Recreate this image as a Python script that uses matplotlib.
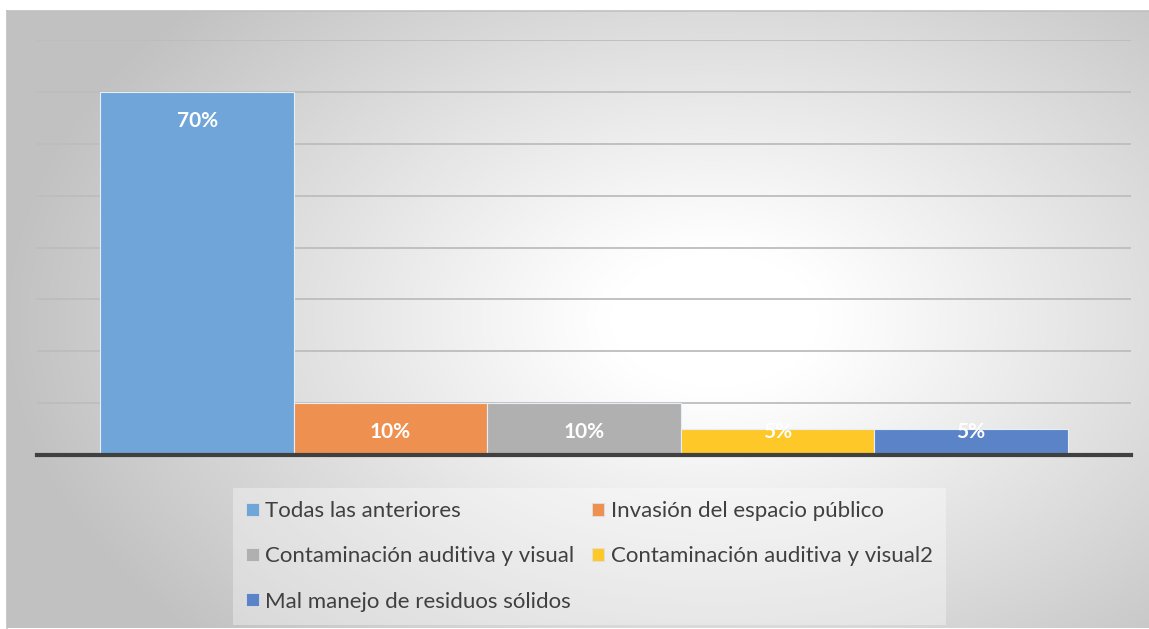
import matplotlib.pyplot as plt
import numpy as np
from matplotlib.patches import Patch

# data
series = [
    "Todas las anteriores",
    "Invasión del espacio público",
    "Contaminación auditiva y visual",
    "Contaminación auditiva y visual2",
    "Mal manejo de residuos sólidos",
]
values = [70, 10, 10, 5, 5]
labels = ["70%", "10%", "10%", "5%", "5%"]
colors = ["#6fa5d8", "#ee9150", "#b0b0b0", "#fec828", "#5b84c8"]

plt.rcParams["font.family"] = ["Lato", "DejaVu Sans"]

W, H = 1149, 629
fig = plt.figure(figsize=(W / 100, H / 100), dpi=100)
fig.patch.set_facecolor("white")

# chart panel with radial gradient background
px0, py0, px1, py1 = 7, 11, 1149, 628
bg = fig.add_axes([px0 / W, 1 - py1 / H, (px1 - px0) / W, (py1 - py0) / H])
gx, gy = np.meshgrid(np.linspace(0, 1, 400), np.linspace(0, 1, 240))
cx, cy = 0.62, 0.5
d = np.sqrt(((gx - cx) / 0.62) ** 2 + ((gy - cy) / 0.75) ** 2)
shade = 1 - 0.24 * np.clip((d - 0.15) / 0.85, 0, 1) ** 1.05
bg.imshow(np.dstack([shade] * 3), aspect="auto", extent=(0, 1, 1, 0), interpolation="bilinear")
bg.set_xticks([])
bg.set_yticks([])
for side in ["right", "bottom"]:
    bg.spines[side].set_visible(False)
for side in ["left", "top"]:
    bg.spines[side].set_color("#c0c0c0")
    bg.spines[side].set_linewidth(1.2)

# plot area
ax = fig.add_axes([37 / W, 1 - 455 / H, 1094 / W, (455 - 40) / H])
ax.patch.set_alpha(0)
pad = 63.5 / 193.5
x = np.arange(len(values))
ax.bar(x, values, width=1.0, color=colors, edgecolor="#e8eef6", linewidth=0.8, zorder=3)
ax.set_xlim(-0.5 - pad, len(values) - 0.5 + pad)
ax.set_ylim(0, 80)
ax.set_yticks(np.arange(0, 81, 10))
ax.yaxis.grid(True, color="#bdbdbd", linewidth=1.3, zorder=0)
ax.set_xticks([])
ax.tick_params(left=False, labelleft=False)
for s in ax.spines.values():
    s.set_visible(False)
ax.axhline(0, color="#404040", linewidth=3, zorder=4, clip_on=False)

for xi, v, lab in zip(x, values, labels):
    ax.annotate(lab, (xi, max(v, 10)), xytext=(0, -21), textcoords="offset points",
                ha="center", va="center", color="white", fontsize=15, fontweight="bold", zorder=5)

# legend, filled row by row like the original
handles = [Patch(facecolor=c, edgecolor="#e0e0e0", linewidth=0.6) for c in colors]
order = [0, 2, 4, 1, 3]
leg = fig.legend([handles[i] for i in order], [series[i] for i in order], ncol=2,
                 loc="upper left", bbox_to_anchor=(233 / W, 1 - 488 / H), fontsize=16,
                 frameon=True, fancybox=False, borderpad=0.6, labelspacing=1.13,
                 handlelength=0.55, handleheight=0.55, handletextpad=0.3,
                 columnspacing=0.8, borderaxespad=0)
leg.get_frame().set_facecolor("white")
leg.get_frame().set_alpha(0.35)
leg.get_frame().set_edgecolor("none")
for t in leg.get_texts():
    t.set_color("#404040")

fig.savefig("out.png", dpi=100)
